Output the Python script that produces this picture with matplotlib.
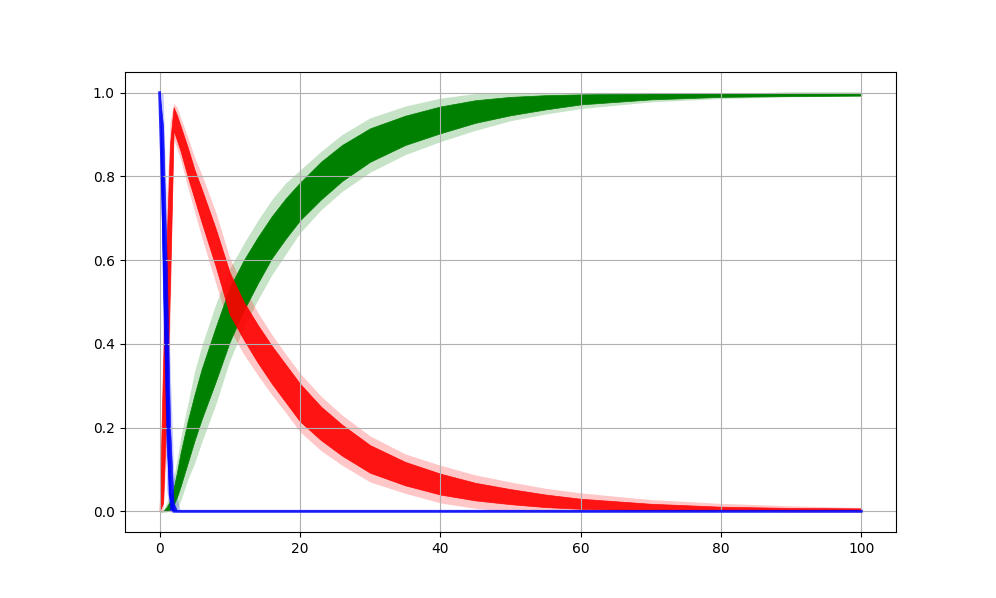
import matplotlib
matplotlib.use("Agg")
import matplotlib.pyplot as plt

t = [0, 0.5, 1, 1.5, 2, 2.5, 3, 4, 5, 6, 8, 10, 12, 14, 16, 18, 20,
     23, 26, 30, 35, 40, 45, 50, 55, 60, 70, 80, 90, 100]

# susceptible (blue): centre, outer envelope, dense core
s_mid = [1.0, 0.72, 0.38, 0.04, 0, 0, 0, 0, 0, 0, 0, 0, 0, 0, 0, 0, 0,
         0, 0, 0, 0, 0, 0, 0, 0, 0, 0, 0, 0, 0]
s_lo = [1.0, 0.42, 0.05, 0, 0, 0, 0, 0, 0, 0, 0, 0, 0, 0, 0, 0, 0,
        0, 0, 0, 0, 0, 0, 0, 0, 0, 0, 0, 0, 0]
s_hi = [1.0, 1.0, 0.72, 0.35, 0.10, 0.03, 0, 0, 0, 0, 0, 0, 0, 0, 0, 0, 0,
        0, 0, 0, 0, 0, 0, 0, 0, 0, 0, 0, 0, 0]
s_clo = [1.0, 0.52, 0.16, 0, 0, 0, 0, 0, 0, 0, 0, 0, 0, 0, 0, 0, 0,
         0, 0, 0, 0, 0, 0, 0, 0, 0, 0, 0, 0, 0]
s_chi = [1.0, 0.92, 0.60, 0.20, 0.02, 0, 0, 0, 0, 0, 0, 0, 0, 0, 0, 0, 0,
         0, 0, 0, 0, 0, 0, 0, 0, 0, 0, 0, 0, 0]

# infected (red)
i_lo = [0, 0, 0.15, 0.45, 0.89, 0.865, 0.84, 0.775, 0.715, 0.655, 0.545,
        0.435, 0.375, 0.325, 0.278, 0.235, 0.19, 0.145, 0.11, 0.07, 0.043,
        0.02, 0.007, 0, 0, 0, 0, 0, 0, 0]
i_hi = [0, 0.45, 0.74, 0.93, 0.975, 0.965, 0.94, 0.895, 0.845, 0.805, 0.715,
        0.605, 0.535, 0.475, 0.422, 0.375, 0.33, 0.275, 0.23, 0.18, 0.137,
        0.11, 0.087, 0.07, 0.055, 0.044, 0.028, 0.019, 0.013, 0.009]
i_clo = [0, 0.02, 0.25, 0.55, 0.91, 0.885, 0.86, 0.80, 0.745, 0.69, 0.585,
         0.47, 0.41, 0.355, 0.305, 0.26, 0.215, 0.17, 0.133, 0.092, 0.062,
         0.04, 0.026, 0.017, 0.01, 0.006, 0.002, 0.001, 0, 0]
i_chi = [0, 0.35, 0.64, 0.88, 0.965, 0.945, 0.92, 0.87, 0.815, 0.77, 0.675,
         0.57, 0.50, 0.445, 0.395, 0.35, 0.305, 0.25, 0.207, 0.158, 0.118,
         0.09, 0.068, 0.053, 0.04, 0.03, 0.018, 0.011, 0.008, 0.007]

# recovered (green)
r_lo = [0, 0, 0, 0, 0, 0.005, 0.025, 0.075, 0.115, 0.165, 0.255,
        0.36, 0.44, 0.505, 0.565, 0.615, 0.665, 0.72, 0.764, 0.81, 0.852,
        0.883, 0.91, 0.933, 0.949, 0.962, 0.978, 0.986, 0.99, 0.992]
r_hi = [0, 0.003, 0.02, 0.045, 0.08, 0.125, 0.175, 0.255, 0.335, 0.395, 0.495,
        0.58, 0.64, 0.695, 0.745, 0.785, 0.815, 0.86, 0.90, 0.94, 0.968,
        0.987, 0.998, 1.0, 1.0, 1.0, 1.0, 1.0, 1.0, 1.0]
r_clo = [0, 0, 0, 0.005, 0.015, 0.035, 0.06, 0.115, 0.17, 0.22, 0.31,
         0.405, 0.48, 0.545, 0.605, 0.652, 0.695, 0.745, 0.789, 0.835, 0.875,
         0.903, 0.928, 0.946, 0.96, 0.972, 0.984, 0.99, 0.992, 0.993]
r_chi = [0, 0, 0.01, 0.025, 0.055, 0.095, 0.14, 0.215, 0.28, 0.34, 0.44,
         0.535, 0.60, 0.655, 0.705, 0.748, 0.785, 0.835, 0.875, 0.915, 0.945,
         0.967, 0.982, 0.99, 0.994, 0.996, 0.998, 0.999, 1.0, 1.0]

fig = plt.figure(figsize=(9.96, 5.98), dpi=100)
ax = fig.add_subplot(111)

# faint spread of the individual runs
ax.fill_between(t, r_lo, r_hi, color='green', alpha=0.22, lw=0)
ax.fill_between(t, i_lo, i_hi, color='red', alpha=0.22, lw=0)
ax.fill_between(t, s_lo, s_hi, color='blue', alpha=0.2, lw=0)

# dense core where most runs overlap
ax.fill_between(t, r_clo, r_chi, color='green', lw=0.5, edgecolor='green')
ax.fill_between(t, i_clo, i_chi, color='red', alpha=0.9, lw=0.5, edgecolor='red')
ax.fill_between(t, s_clo, s_chi, color='blue', alpha=0.85, lw=0.5, edgecolor='blue')
ax.plot(t, s_mid, color='blue', lw=2, alpha=0.85)

ax.grid(True)
fig.savefig('out.png')
